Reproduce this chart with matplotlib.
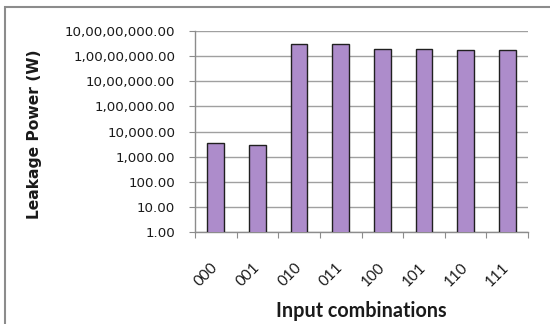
import matplotlib
matplotlib.use("Agg")
import matplotlib.pyplot as plt
from matplotlib.patches import Rectangle
from matplotlib.ticker import FixedLocator, NullLocator

categories = ["000", "001", "010", "011", "100", "101", "110", "111"]
values = [3400, 2800, 3.1e7, 3.1e7, 1.95e7, 1.95e7, 1.74e7, 1.74e7]
ytick_vals = [1, 10, 100, 1e3, 1e4, 1e5, 1e6, 1e7, 1e8]
ytick_labels = ["1.00", "10.00", "100.00", "1,000.00", "10,000.00", "1,00,000.00",
                "10,00,000.00", "1,00,00,000.00", "10,00,00,000.00"]

W, H = 550, 324
fig = plt.figure(figsize=(W / 100, H / 100), dpi=100)
fig.patch.set_facecolor("white")

# outer chart border
fig.patches.append(Rectangle((5 / W, -0.05), 1.2, (H - 7) / H + 0.05, transform=fig.transFigure,
                             fill=False, edgecolor="#8c8c8c", linewidth=1.5))

ax = fig.add_axes([195 / W, (H - 232) / H, (528 - 195) / W, (232 - 31) / H])
x = list(range(len(categories)))
ax.bar(x, values, width=0.4, color="#ad8ccb", edgecolor="#202020", linewidth=1.0, zorder=3)
ax.set_yscale("log")
ax.set_ylim(1, 1e8)
ax.set_xlim(-0.5, len(categories) - 0.5)
ax.yaxis.set_major_locator(FixedLocator(ytick_vals))
ax.yaxis.set_minor_locator(NullLocator())
ax.set_yticklabels(ytick_labels, fontsize=9.6, color="#1a1a1a", family="DejaVu Sans")
ax.grid(axis="y", color="#a0a0a0", linewidth=1.0, zorder=0)

ax.set_xticks([i - 0.5 for i in range(len(categories) + 1)])
ax.set_xticklabels([])
ax.set_xticks(x, minor=True)
ax.set_xticklabels(categories, minor=True, rotation=45, ha="right", va="center",
                   rotation_mode="anchor", fontsize=11, family="Lato", color="#1a1a1a")
ax.tick_params(axis="x", which="minor", length=0, pad=24)
ax.tick_params(axis="x", which="major", length=4.3, color="#8c8c8c", direction="out")
ax.tick_params(axis="y", length=4.3, color="#8c8c8c", direction="out", pad=10)

for s in ["top", "right"]:
    ax.spines[s].set_visible(False)
for s in ["left", "bottom"]:
    ax.spines[s].set_color("#8c8c8c")
    ax.spines[s].set_linewidth(1.0)

fig.text(35 / W, (H - 134) / H, "Leakage Power (W)", rotation=90, ha="center", va="center",
         fontsize=11.2, fontweight="bold", family="DejaVu Sans", color="#1a1a1a")
fig.text(361 / W, (H - 311) / H, "Input combinations", ha="center", va="center",
         fontsize=14.2, fontweight="bold", family="Lato", color="#1a1a1a")

fig.savefig("out.png", dpi=100, facecolor="white")
